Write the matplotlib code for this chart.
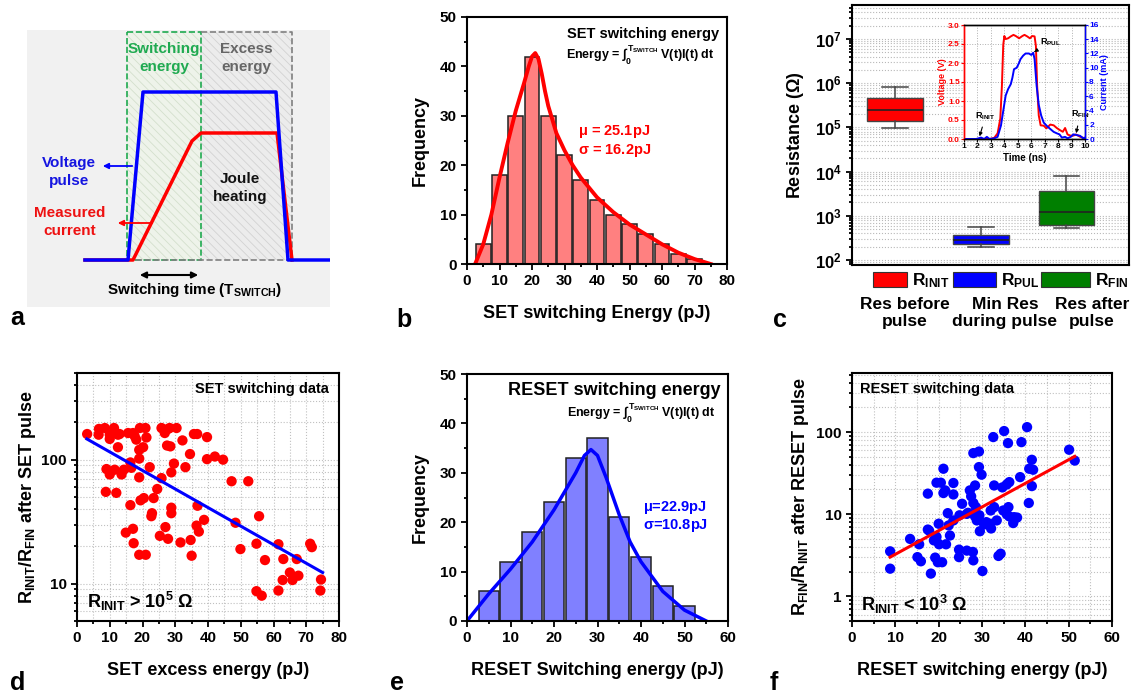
import matplotlib
matplotlib.use('Agg')
import matplotlib.pyplot as plt
import matplotlib.ticker as ticker
from matplotlib.patches import Rectangle
import numpy as np

plt.rcParams['font.family'] = ['Liberation Sans', 'DejaVu Sans']
plt.rcParams['font.weight'] = 'bold'
plt.rcParams['axes.labelweight'] = 'bold'
plt.rcParams['mathtext.fontset'] = 'custom'
plt.rcParams['mathtext.rm'] = 'Liberation Sans:bold'
plt.rcParams['mathtext.it'] = 'Liberation Sans:bold'
plt.rcParams['mathtext.bf'] = 'Liberation Sans:bold'
plt.rcParams['axes.linewidth'] = 1.5
plt.rcParams['hatch.linewidth'] = 0.6

# ---- data ----
# a) schematic pulse (pixel space of the sketch)
volt_t = [85, 128, 143, 276, 288, 330]
volt_v = [260, 260, 92, 92, 260, 260]
curr_t = [85, 133, 192, 201, 277, 292]
curr_i = [260, 260, 141, 133, 133, 260]

# b) SET switching energy histogram
set_centers = [5, 10, 15, 20, 25, 30, 35, 40, 45, 50, 55, 60, 65, 70]
set_counts = [4, 18, 30, 42, 30, 22, 17, 13, 10, 8, 6, 4, 2, 1]
set_fit_x = [2.5, 5, 7.5, 10, 12.5, 15, 17.5, 19, 20, 21, 22, 23, 24, 25, 27.5, 30, 32.5, 35,
             40, 45, 50, 55, 60, 65, 70, 75]
set_fit_y = [0, 4, 10, 17.5, 24.5, 31, 36.5, 40, 42, 42.7, 41.5, 38.5, 35, 32, 26.5, 23, 20,
             17.5, 13.5, 10.5, 8, 6, 4, 2.3, 1, 0]

# c) resistance box plots
res_labels = ['INIT', 'PUL', 'FIN']
res_lo = [9.5e4, 197, 538]
res_q1 = [1.42e5, 230, 610]
res_med = [2.44e5, 280, 1200]
res_q3 = [4.55e5, 368, 3580]
res_hi = [8.3e5, 557, 8070]
res_colors = ['#ff0000', '#0000ff', '#007f00']
res_desc = ['Res before\npulse', 'Min Res\nduring pulse', 'Res after\npulse']

# c inset) voltage / current transients
v_t = [1, 2.9, 3.25, 3.5, 3.7, 3.82, 3.92, 4.0, 4.1, 4.28, 4.48, 4.68, 4.85, 5.1, 5.34, 5.5,
       5.7, 5.9, 6.07, 6.25, 6.35, 6.44, 6.56, 6.7, 6.93, 7.13, 7.42, 7.67, 7.9, 8.15, 8.35,
       8.52, 8.7, 8.9, 9.14, 9.33, 9.63, 9.87, 10]
v_val = [0, 0, 0.03, 0.15, 0.54, 1.4, 2.48, 2.71, 2.63, 2.65, 2.7, 2.74, 2.71, 2.65, 2.71, 2.74,
         2.7, 2.65, 2.71, 2.7, 2.44, 1.4, 0.62, 0.36, 0.35, 0.28, 0.38, 0.36, 0.29, 0.23, 0.19,
         0.29, 0.12, 0.09, 0.09, 0.12, 0.06, 0.03, 0.02]
i_t = [1, 1.9, 2.27, 2.5, 2.7, 2.9, 3.25, 3.5, 3.75, 3.94, 4.1, 4.28, 4.48, 4.6, 4.72, 4.92,
       5.1, 5.2, 5.4, 5.58, 5.83, 6.0, 6.15, 6.25, 6.4, 6.56, 6.74, 6.93, 7.18, 7.42, 7.67,
       7.9, 8.1, 8.28, 8.52, 8.7, 8.94, 9.14, 9.38, 9.63, 9.87, 10]
i_val = [0, 0, 0.2, 0, 0.3, 0, 0.1, 0.3, 1.9, 4.2, 6.1, 7.0, 7.7, 8.6, 9.8, 10.0, 10.7, 11.2,
         11.7, 12.0, 12.0, 11.8, 12.1, 11.2, 7.5, 4.8, 3.3, 2.3, 1.8, 1.4, 1.0, 0.8, 0.65, 0.2,
         0.3, 0.1, 0.3, 0.65, 0.55, 0.45, 0.1, 0.2]

# d) SET excess energy vs resistance ratio
d_x = [3.1, 6.6, 6.7, 8.5, 10.0, 10.0, 11.3, 12.5, 13.0, 15.6,
       17.1, 18.1, 19.2, 20.9, 21.2, 12.5, 20.2, 19.0, 25.8, 26.8,
       28.3, 30.4, 27.5, 28.5, 32.2, 35.7, 36.7, 39.7, 34.5, 39.7,
       42.1, 44.6, 19.0, 16.3, 16.6, 14.3, 13.6, 10.0, 9.0, 11.5,
       22.2, 19.0, 25.8, 28.8, 29.6, 33.1, 8.8, 12.0, 20.4, 19.4,
       23.4, 24.5, 22.9, 22.7, 16.3, 28.8, 28.8, 27.0, 25.3, 27.8,
       14.9, 17.1, 17.3, 19.0, 21.0, 31.6, 34.7, 35.0, 36.5, 37.2,
       36.8, 38.8, 47.2, 52.3, 48.4, 49.9, 55.6, 54.8, 57.4, 61.5,
       63.0, 67.1, 65.0, 67.6, 62.8, 65.8, 71.2, 71.7, 74.5, 74.3,
       54.8, 56.4, 61.5, 27.8, 17.6]
d_y = [161, 159, 177, 180, 159, 147, 180, 159, 161, 164,
       164, 145, 180, 180, 151, 126, 126, 120, 180, 164,
       180, 180, 130, 128, 143, 161, 161, 152, 111, 101,
       106, 100, 102, 95, 86, 83, 76, 76, 84, 83,
       87, 72, 71, 79, 93, 87, 55, 54, 49, 47,
       49, 58, 37, 35, 43, 41, 37, 28.6, 24.3, 23,
       25.8, 27.7, 21.2, 17.1, 17.1, 21.5, 22.5, 16.8, 29.4, 26.3,
       42.5, 32.7, 67, 67, 31, 19, 35, 21, 15.5, 20.8,
       15.8, 15.8, 12.3, 11.6, 10.7, 10.7, 21, 19.7, 10.8, 8.8,
       8.7, 8.0, 8.8, 177, 155]
d_fit_x = [3, 75]
d_fit_y = [147, 12.3]

# e) RESET switching energy histogram
reset_centers = [5, 10, 15, 20, 25, 30, 35, 40, 45, 50]
reset_counts = [6, 12, 18, 24, 33, 37, 21, 13, 7, 3]
reset_fit_x = [0, 5, 10, 15, 20, 25, 27, 28.5, 30, 32, 35, 37.5, 40, 45, 50, 55]
reset_fit_y = [0, 5.5, 10.5, 16, 22.5, 30, 33.5, 34.7, 33.5, 29, 21.5, 16, 12, 6, 2.2, 0]

# f) RESET switching energy vs resistance ratio
f_x = [8.8, 8.8, 13.4, 15.5, 15.1, 15.9, 17.5, 17.5, 19.5, 20.5,
       21.1, 21.5, 21.1, 19.5, 20.1, 18.9, 19.2, 19.8, 20.8, 18.2,
       20.0, 21.7, 22.6, 22.1, 23.4, 23.4, 22.3, 23.4, 24.8, 25.4,
       24.7, 24.7, 26.5, 26.5, 27.9, 28.0, 27.2, 27.5, 28.0, 29.3,
       29.3, 29.9, 28.4, 28.0, 28.6, 28.4, 28.8, 29.4, 29.5, 30.1,
       31.8, 32.1, 32.0, 32.6, 32.8, 32.8, 33.4, 33.8, 34.3, 35.1,
       36.0, 34.7, 35.7, 36.3, 36.1, 34.9, 35.7, 36.3, 37.4, 37.2,
       38.1, 38.8, 39.1, 40.4, 40.8, 40.9, 41.5, 41.8, 41.5, 50.1,
       51.4, 17.8, 26.8, 30.5, 31.0]
f_y = [3.53, 2.17, 5.0, 4.3, 3.0, 2.67, 17.8, 6.5, 24.2, 24.2,
       35.8, 19.5, 18.1, 5.3, 4.3, 4.8, 2.96, 2.6, 2.6, 1.89,
       7.65, 4.3, 5.5, 10.3, 24, 17.4, 7.3, 8.4, 9.7, 13.4,
       3.7, 3.0, 10.1, 3.6, 3.47, 2.74, 19.5, 16.5, 55.5, 58,
       37.5, 30.3, 22.4, 13.7, 12.2, 9.4, 8.4, 9.7, 6.2, 2.03,
       7.65, 6.7, 11.1, 87, 22.4, 12.2, 8.4, 3.1, 3.3, 103,
       73.5, 21.2, 23, 24.6, 12.2, 11.1, 10, 9.4, 9.2, 7.8,
       9.1, 28.3, 75.5, 115, 13.7, 35.8, 46, 34.8, 22, 61,
       45, 6.3, 10.4, 7.5, 8.0]
f_fit_x = [8.8, 51.4]
f_fit_y = [3.0, 50.6]

energy_eq = r'Energy = $\int_0^{\mathregular{T_{SWITCH}}}$ V(t)I(t) dt'

# ---- figure ----
W, H = 1132, 697
fig = plt.figure(figsize=(W / 100, H / 100), dpi=100)


def px_axes(l, t, r, b):
    return fig.add_axes([l / W, 1 - b / H, (r - l) / W, (b - t) / H])


def fx(x):
    return x / W


def fy(y):
    return 1 - y / H


def style(ax, size=11):
    ax.tick_params(which='both', direction='out', width=1.3, labelsize=size)
    ax.tick_params(which='major', length=4)
    ax.tick_params(which='minor', length=2.5)


# panel letters
for letter, (x, y) in zip('abcdef', [(10, 330), (396, 332), (773, 332),
                                      (10, 695), (390, 695), (770, 695)]):
    fig.text(fx(x), fy(y), letter, fontsize=18, fontweight='bold', va='bottom')

# ---- a) schematic ----
ax = px_axes(27, 30, 330, 307)
ax.set_xlim(27, 330)
ax.set_ylim(307, 30)
ax.axis('off')
ax.add_patch(Rectangle((0, 0), 1, 1, transform=ax.transAxes, facecolor='#f1f1f1', edgecolor='none'))
ax.add_patch(Rectangle((127, 32), 74, 228, facecolor='#eef3ea', edgecolor='#d3dfcc', hatch='\\\\\\\\', lw=0))
ax.add_patch(Rectangle((201, 32), 91, 228, facecolor='#ececec', edgecolor='#d2d2d2', hatch='\\\\\\\\', lw=0))
ax.add_patch(Rectangle((127, 32), 74, 228, fill=False, edgecolor='#1faa50', ls='--', lw=1.2))
ax.plot([201, 292, 292], [32, 32, 260], color='#808080', ls='--', lw=1.2)
ax.plot([127, 292], [260, 260], color='#808080', ls='--', lw=1.2)
ax.plot(curr_t, curr_i, color='#ff0000', lw=2.5, solid_joinstyle='round')
ax.plot(volt_t, volt_v, color='#0000ff', lw=2.5, solid_joinstyle='round')
ax.text(164, 58, 'Switching\nenergy', color='#1faa50', fontsize=11, ha='center', va='center', linespacing=1.3)
ax.text(246, 58, 'Excess\nenergy', color='#666666', fontsize=11, ha='center', va='center', linespacing=1.3)
ax.text(69, 172, 'Voltage\npulse', color='#1515e0', fontsize=11, ha='center', va='center', linespacing=1.3)
ax.text(70, 222, 'Measured\ncurrent', color='#ee1111', fontsize=11, ha='center', va='center', linespacing=1.3)
ax.text(240, 188, 'Joule\nheating', color='#111111', fontsize=11, ha='center', va='center', linespacing=1.3)
ax.annotate('', xy=(100, 166), xytext=(135, 166),
            arrowprops=dict(arrowstyle='-|>', color='#0000ff', lw=1.3, mutation_scale=8))
ax.annotate('', xy=(115, 223), xytext=(155, 223),
            arrowprops=dict(arrowstyle='-|>', color='#ff0000', lw=1.3, mutation_scale=8))
ax.annotate('', xy=(137, 275), xytext=(201, 275),
            arrowprops=dict(arrowstyle='<|-|>', color='black', lw=1.5, mutation_scale=9))
ax.text(195, 290, r'Switching time (T$_{\mathregular{SWITCH}}$)', fontsize=11, ha='center', va='center')

# ---- b) SET histogram ----
ax = px_axes(467, 17, 727, 264)
ax.bar(set_centers, set_counts, width=4.6, color='#ff8080', edgecolor='#222222', lw=1.1)
ax.plot(set_fit_x, set_fit_y, color='#ff0000', lw=2.8)
ax.set_xlim(0, 80)
ax.set_ylim(0, 50)
ax.xaxis.set_major_locator(ticker.MultipleLocator(10))
ax.xaxis.set_minor_locator(ticker.MultipleLocator(5))
ax.yaxis.set_major_locator(ticker.MultipleLocator(10))
ax.yaxis.set_minor_locator(ticker.MultipleLocator(5))
style(ax)
ax.set_xlabel('SET switching Energy (pJ)', fontsize=13, labelpad=12)
ax.set_ylabel('Frequency', fontsize=13, labelpad=8)
ax.text(0.97, 0.93, 'SET switching energy', transform=ax.transAxes, ha='right', va='center', fontsize=10.5)
ax.text(0.95, 0.845, energy_eq, transform=ax.transAxes, ha='right', va='center', fontsize=9)
ax.text(0.425, 0.535, r'$\mu$ = 25.1pJ', transform=ax.transAxes, color='#ff0000', fontsize=10.5, va='center')
ax.text(0.425, 0.46, r'$\sigma$ = 16.2pJ', transform=ax.transAxes, color='#ff0000', fontsize=10.5, va='center')

# ---- c) resistance box plot ----
ax = px_axes(852, 5, 1129, 265)
stats = [dict(med=m, q1=a, q3=b, whislo=lo, whishi=hi, fliers=[])
         for m, a, b, lo, hi in zip(res_med, res_q1, res_q3, res_lo, res_hi)]
bp = ax.bxp(stats, positions=[1, 2, 3], widths=0.65, capwidths=0.3, patch_artist=True,
            medianprops=dict(color='#222222', lw=1.2),
            whiskerprops=dict(color='#444444', lw=1.1), capprops=dict(color='#444444', lw=1.1),
            boxprops=dict(edgecolor='#444444', lw=1.0))
for patch, c in zip(bp['boxes'], res_colors):
    patch.set_facecolor(c)
ax.set_yscale('log')
ax.set_ylim(77, 5.9e7)
ax.set_xlim(0.5, 3.73)
ax.set_xticks([])
ax.yaxis.set_major_locator(ticker.LogLocator(base=10, numticks=10))
ax.yaxis.set_major_formatter(ticker.FuncFormatter(lambda v, _: r'$\mathbf{10^{%d}}$' % round(np.log10(v))))
ax.yaxis.set_minor_locator(ticker.LogLocator(base=10, subs=np.arange(2, 10), numticks=10))
ax.yaxis.set_minor_formatter(ticker.NullFormatter())
ax.grid(True, which='both', axis='y', color='#b8b8b8', ls=':', lw=0.8)
ax.set_axisbelow(True)
style(ax, 12)
ax.set_ylabel('Resistance ($\\Omega$)', fontsize=13, labelpad=6)
leg_x = [873, 953, 1041]
leg_w = [34, 43, 49]
desc_x = [905, 1005, 1092]
for lx, lw_, c, lab, dx, desc in zip(leg_x, leg_w, res_colors, res_labels, desc_x, res_desc):
    fig.add_artist(Rectangle((fx(lx), fy(287)), lw_ / W, 15 / H, transform=fig.transFigure,
                             facecolor=c, edgecolor='#333333', lw=0.8))
    fig.text(fx(lx + lw_ + 5), fy(281), r'R$_{\mathregular{%s}}$' % lab, fontsize=12.5, va='center')
    fig.text(fx(dx), fy(313), desc, fontsize=12.5, ha='center', va='center', linespacing=1.2)

# c inset
ax_in = px_axes(964, 25, 1085, 139)
ax_in.set_facecolor('white')
ax_in.plot(v_t, v_val, color='#ff0000', lw=1.4)
ax_in.set_xlim(1, 10)
ax_in.set_ylim(0, 3.0)
ax_in.xaxis.set_major_locator(ticker.MultipleLocator(1))
ax_in.yaxis.set_major_locator(ticker.MultipleLocator(0.5))
ax_in.yaxis.set_major_formatter(ticker.FormatStrFormatter('%.1f'))
ax_in.grid(True, color='#b0b0b0', ls=':', lw=0.7)
ax_in.tick_params(labelsize=6, length=2, width=0.8, pad=1)
ax_in.tick_params(axis='y', colors='#ff0000')
ax_in.spines['left'].set_color('#ff0000')
ax_in.set_ylabel('Voltage (V)', color='#ff0000', fontsize=6.5, labelpad=1)
ax_in.set_xlabel('Time (ns)', fontsize=7, labelpad=2)
ax_in2 = ax_in.twinx()
ax_in2.plot(i_t, i_val, color='#0000ff', lw=1.4)
ax_in2.set_ylim(0, 16)
ax_in2.yaxis.set_major_locator(ticker.MultipleLocator(2))
ax_in2.tick_params(labelsize=6, length=2, width=0.8, pad=1, colors='#0000ff')
ax_in2.spines['right'].set_color('#0000ff')
ax_in2.spines['left'].set_color('#ff0000')
ax_in2.set_ylabel('Current (mA)', color='#0000ff', fontsize=6.5, labelpad=1)
for s in ax_in.spines.values():
    s.set_linewidth(1.0)
for s in ax_in2.spines.values():
    s.set_linewidth(1.0)
ax_in.annotate(r'R$_{\mathregular{INIT}}$', xy=(2.1, 0.0), xytext=(1.85, 0.55), fontsize=6.5,
               arrowprops=dict(arrowstyle='-|>', color='black', lw=0.8, mutation_scale=5))
ax_in.annotate(r'R$_{\mathregular{PUL}}$', xy=(6.05, 2.25), xytext=(6.65, 2.5), fontsize=6.5,
               arrowprops=dict(arrowstyle='-|>', color='black', lw=0.8, mutation_scale=5))
ax_in.annotate(r'R$_{\mathregular{FIN}}$', xy=(9.3, 0.08), xytext=(8.95, 0.58), fontsize=6.5,
               arrowprops=dict(arrowstyle='-|>', color='black', lw=0.8, mutation_scale=5))

# ---- d) SET scatter ----
ax = px_axes(77, 373, 339, 621)
ax.scatter(d_x, d_y, s=55, color='#ff0000', edgecolors='none', zorder=3)
ax.plot(d_fit_x, d_fit_y, color='#0000ff', lw=2.2, zorder=4)
ax.set_yscale('log')
ax.set_xlim(0, 80)
ax.set_ylim(5, 500)
ax.xaxis.set_major_locator(ticker.MultipleLocator(10))
ax.xaxis.set_minor_locator(ticker.MultipleLocator(5))
ax.yaxis.set_major_formatter(ticker.FuncFormatter(lambda v, _: '%g' % v))
ax.yaxis.set_minor_formatter(ticker.NullFormatter())
ax.grid(True, which='both', color='#c0c0c0', ls=':', lw=0.8)
ax.set_axisbelow(True)
style(ax)
ax.set_xlabel('SET excess energy (pJ)', fontsize=13, labelpad=12)
ax.set_ylabel(r'R$_{\mathregular{INIT}}$/R$_{\mathregular{FIN}}$ after SET pulse', fontsize=13, labelpad=2)
ax.text(0.96, 0.935, 'SET switching data', transform=ax.transAxes, ha='right', va='center', fontsize=10.5)
ax.text(0.04, 0.08, r'R$_{\mathregular{INIT}}$ > 10$^{\mathregular{5}}$ $\Omega$', transform=ax.transAxes,
        ha='left', va='center', fontsize=13)

# ---- e) RESET histogram ----
ax = px_axes(467, 374, 728, 621)
ax.bar(reset_centers, reset_counts, width=4.6, color='#8080ff', edgecolor='#222222', lw=1.1)
ax.plot(reset_fit_x, reset_fit_y, color='#0000ff', lw=2.5)
ax.set_xlim(0, 60)
ax.set_ylim(0, 50)
ax.xaxis.set_major_locator(ticker.MultipleLocator(10))
ax.xaxis.set_minor_locator(ticker.MultipleLocator(5))
ax.yaxis.set_major_locator(ticker.MultipleLocator(10))
ax.yaxis.set_minor_locator(ticker.MultipleLocator(5))
style(ax)
ax.set_xlabel('RESET Switching energy (pJ)', fontsize=13, labelpad=12)
ax.set_ylabel('Frequency', fontsize=13, labelpad=8)
ax.text(0.97, 0.935, 'RESET switching energy', transform=ax.transAxes, ha='right', va='center', fontsize=13)
ax.text(0.95, 0.84, energy_eq, transform=ax.transAxes, ha='right', va='center', fontsize=9)
ax.text(0.675, 0.46, r'$\mu$=22.9pJ', transform=ax.transAxes, color='#0000ff', fontsize=10.5, va='center')
ax.text(0.675, 0.385, r'$\sigma$=10.8pJ', transform=ax.transAxes, color='#0000ff', fontsize=10.5, va='center')

# ---- f) RESET scatter ----
ax = px_axes(852, 373, 1112, 621)
ax.scatter(f_x, f_y, s=55, color='#0000ff', edgecolors='none', zorder=3)
ax.plot(f_fit_x, f_fit_y, color='#ff0000', lw=2.2, zorder=4)
ax.set_yscale('log')
ax.set_xlim(0, 60)
ax.set_ylim(0.5, 525)
ax.xaxis.set_major_locator(ticker.MultipleLocator(10))
ax.xaxis.set_minor_locator(ticker.MultipleLocator(5))
ax.yaxis.set_major_formatter(ticker.FuncFormatter(lambda v, _: '%g' % v))
ax.yaxis.set_minor_formatter(ticker.NullFormatter())
ax.grid(True, which='both', color='#c0c0c0', ls=':', lw=0.8)
ax.set_axisbelow(True)
style(ax)
ax.set_xlabel('RESET switching energy (pJ)', fontsize=13, labelpad=12)
ax.set_ylabel(r'R$_{\mathregular{FIN}}$/R$_{\mathregular{INIT}}$ after RESET pulse', fontsize=13, labelpad=4)
ax.text(0.03, 0.935, 'RESET switching data', transform=ax.transAxes, ha='left', va='center', fontsize=10.5)
ax.text(0.035, 0.065, r'R$_{\mathregular{INIT}}$ < 10$^{\mathregular{3}}$ $\Omega$', transform=ax.transAxes,
        ha='left', va='center', fontsize=13)

fig.savefig('out.png', dpi=100)
